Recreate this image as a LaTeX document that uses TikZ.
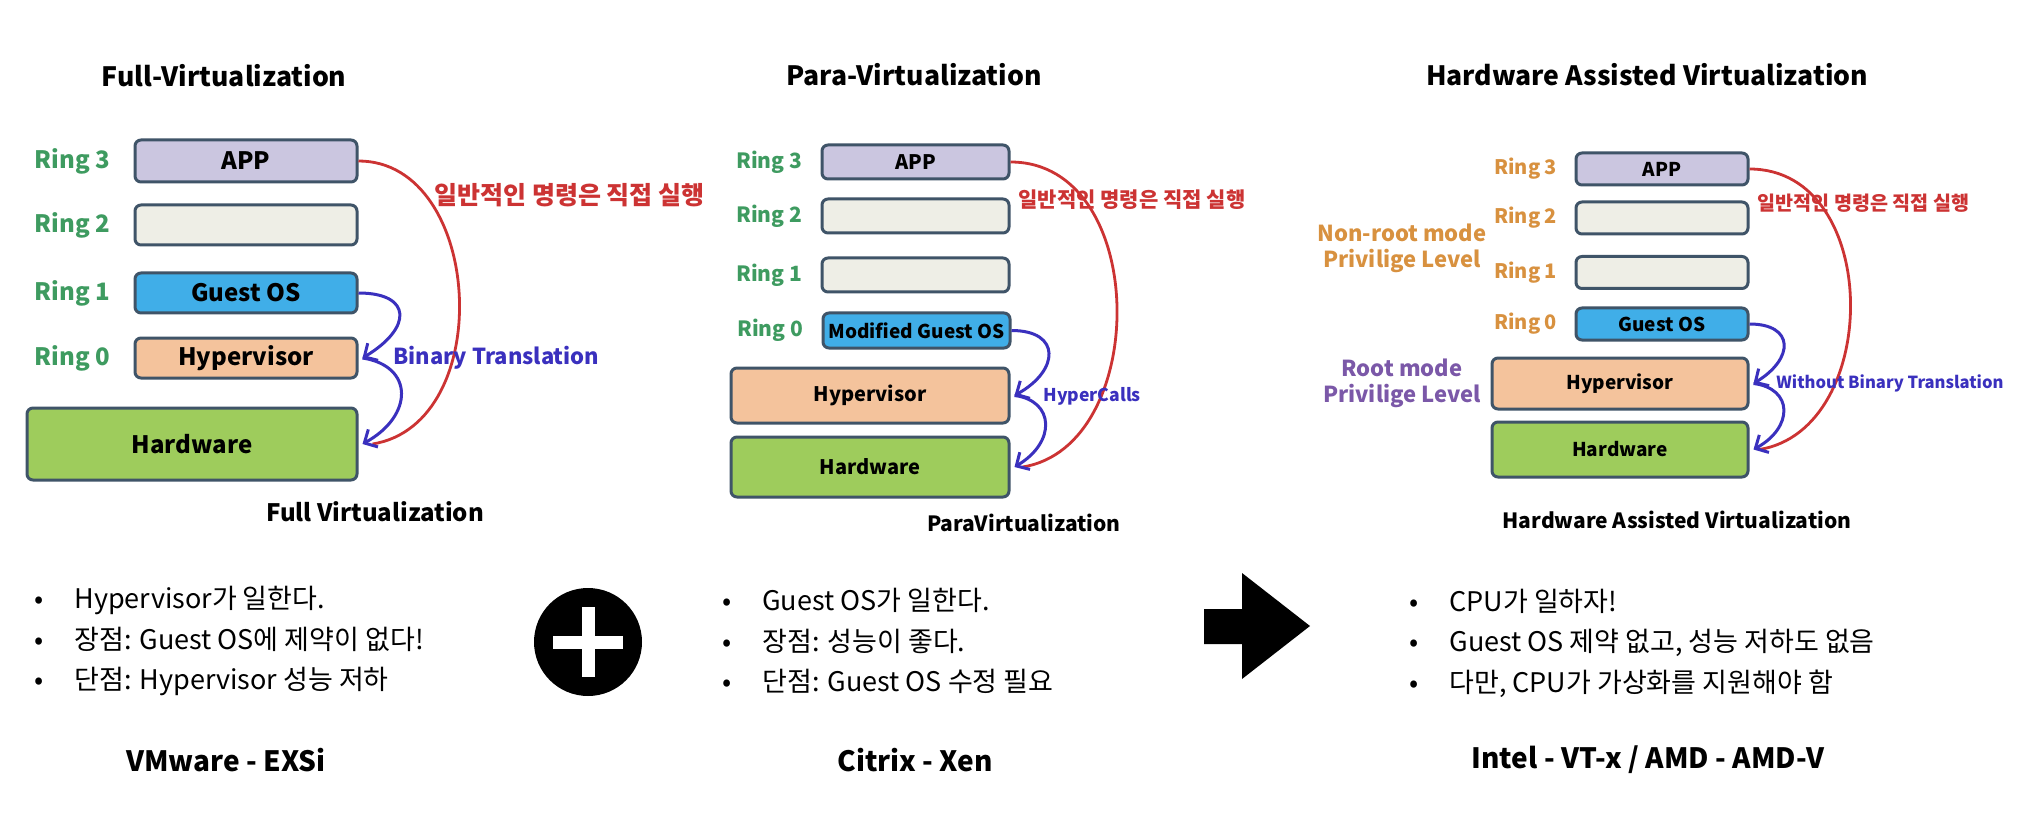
\documentclass[tikz,border=0pt]{standalone}
\usepackage{fontspec}
\setmainfont{Noto Sans CJK KR}
\usetikzlibrary{arrows.meta, positioning}
\definecolor{virtgreen}{HTML}{3E9B60}
\definecolor{virtorange}{HTML}{D8913F}
\definecolor{virtpurple}{HTML}{7B58A8}
\definecolor{virtred}{HTML}{CC3333}
\definecolor{virtblue}{HTML}{3A30BE}
\definecolor{virtedge}{HTML}{3F5468}
\definecolor{appfill}{HTML}{CBC6E0}
\definecolor{emptyfill}{HTML}{EEEEE6}
\definecolor{osfill}{HTML}{40AEE8}
\definecolor{hypfill}{HTML}{F4C39C}
\definecolor{hwfill}{HTML}{9ECC5C}
\newcommand{\fsz}[1]{\fontsize{#1}{#1}\selectfont}
\newcommand{\bul}[1]{\makebox[20pt][l]{\textbullet}#1}
\tikzset{
  layer/.style={rectangle, rounded corners=3pt, draw=virtedge, line width=1.5pt,
                align=center, inner sep=0pt},
  appbox/.style={layer, fill=appfill},
  emptybox/.style={layer, fill=emptyfill},
  osbox/.style={layer, fill=osfill},
  hypbox/.style={layer, fill=hypfill},
  hwbox/.style={layer, fill=hwfill},
  ring/.style={inner sep=0pt, text=virtgreen},
  ringo/.style={ring, text=virtorange},
  heading/.style={inner sep=0pt, font=\fsz{13.3}\bfseries},
  direct/.style={draw=virtred, line width=1.4pt},
  trap/.style={draw=virtblue, line width=1.5pt,
               -{Straight Barb[length=5pt, width=10pt, line width=1.5pt]}},
  redlbl/.style={anchor=west, inner sep=0pt, text=virtred},
  bluelbl/.style={anchor=west, inner sep=0pt, text=virtblue},
  bullets/.style={anchor=west, align=left, inner sep=0pt, font=\fontsize{13.5}{20.3}\selectfont},
  vendor/.style={inner sep=0pt, font=\fsz{14}\bfseries},
}

\begin{document}
\begin{tikzpicture}[x=0.5pt, y=-0.5pt]
  \useasboundingbox[fill=white] (0,0) rectangle (2024,834);

  % full virtualization
  \node[heading] (t1) at (224,76) {Full-Virtualization};
  \begin{scope}[font=\fsz{12}\bfseries]
    \node[appbox, minimum width=111pt, minimum height=21pt] (app1) at (246,161) {APP};
    \node[emptybox, minimum width=111pt, minimum height=20pt] (ept1) at (246,225) {};
    \node[osbox, minimum width=111pt, minimum height=20pt] (gos1) at (246,293) {Guest OS};
    \node[hypbox, minimum width=111pt, minimum height=20pt] (hyp1) at (246,358) {Hypervisor};
    \node[hwbox, minimum width=165pt, minimum height=36pt] (hw1) at (192,444) {Hardware};
    \node[ring, left=11.5pt of app1] (r13) {Ring 3};
    \node[ring, left=11.5pt of ept1] (r12) {Ring 2};
    \node[ring, left=11.5pt of gos1] (r11) {Ring 1};
    \node[ring, left=11.5pt of hyp1] (r10) {Ring 0};
  \end{scope}
  \draw[direct] (app1.east) .. controls +(125,0) and +(125,-20) .. ([xshift=7pt]hw1.east);
  \draw[trap] (gos1.east) .. controls +(54,0) and +(50,-30) .. ([xshift=2pt]hyp1.east);
  \draw[trap] ([xshift=2pt]hyp1.east) .. controls +(52,8) and +(51,-28) .. ([xshift=2pt]hw1.east);
  \node[redlbl, font=\fsz{12.5}\bfseries] (d1) at (434,195) {일반적인 명령은 직접 실행};
  \node[bluelbl, font=\fsz{11}\bfseries] (b1) at (393,358) {Binary Translation};
  \node[inner sep=0pt, font=\fsz{12}\bfseries] (c1) at (375,512) {Full Virtualization};

  % para virtualization
  \node[heading] (t2) at (914,75) {Para-Virtualization};
  \begin{scope}[font=\fsz{10}\bfseries]
    \node[appbox, minimum width=93.5pt, minimum height=17pt] (app2) at (915.5,162) {APP};
    \node[emptybox, minimum width=93.5pt, minimum height=17pt] (ept2) at (915.5,216) {};
    \node[emptybox, minimum width=93.5pt, minimum height=17pt] (eptb2) at (915.5,275) {};
    \node[osbox, minimum width=93.5pt, minimum height=17.5pt, font=\fsz{9.5}\bfseries] (mgos) at (916.5,330.5) {Modified Guest OS};
    \node[hypbox, minimum width=139pt, minimum height=27.5pt] (hyp2) at (870,395.5) {Hypervisor};
    \node[hwbox, minimum width=139pt, minimum height=30pt] (hw2) at (870,467) {Hardware};
    \node[ring, left=9pt of app2, font=\fsz{10.5}\bfseries] (r23) {Ring 3};
    \node[ring, left=9pt of ept2, font=\fsz{10.5}\bfseries] (r22) {Ring 2};
    \node[ring, left=9pt of eptb2, font=\fsz{10.5}\bfseries] (r21) {Ring 1};
    \node[ring, left=9pt of mgos, font=\fsz{10.5}\bfseries] (r20) {Ring 0};
  \end{scope}
  \draw[direct] (app2.east) .. controls +(140,0) and +(128,-20) .. ([xshift=6pt]hw2.east);
  \draw[trap] (mgos.east) .. controls +(50,0) and +(45,-25) .. ([xshift=2pt]hyp2.east);
  \draw[trap] ([xshift=2pt]hyp2.east) .. controls +(40,5) and +(42,-25) .. ([xshift=2pt]hw2.east);
  \node[redlbl, font=\fsz{10.5}\bfseries] (d2) at (1018,200) {일반적인 명령은 직접 실행};
  \node[bluelbl, font=\fsz{8.8}\bfseries] (b2) at (1043,396) {HyperCalls};
  \node[inner sep=0pt, font=\fsz{10.5}\bfseries] (c2) at (1024,523) {ParaVirtualization};

  % hardware assisted virtualization
  \node[heading] (t3) at (1647,75) {Hardware Assisted Virtualization};
  \begin{scope}[font=\fsz{9.5}\bfseries]
    \node[appbox, minimum width=86pt, minimum height=16pt] (app3) at (1662,169) {APP};
    \node[emptybox, minimum width=86pt, minimum height=16pt] (ept3) at (1662,218) {};
    \node[emptybox, minimum width=86pt, minimum height=16pt] (eptb3) at (1662,272.5) {};
    \node[osbox, minimum width=86pt, minimum height=16pt] (gos3) at (1662,324) {Guest OS};
    \node[hypbox, minimum width=128pt, minimum height=25.5pt] (hyp3) at (1620,383.5) {Hypervisor};
    \node[hwbox, minimum width=128pt, minimum height=27.5pt] (hw3) at (1620,449.5) {Hardware};
    \node[ringo, left=8.5pt of app3, font=\fsz{10}\bfseries] (r33) {Ring 3};
    \node[ringo, left=8.5pt of ept3, font=\fsz{10}\bfseries] (r32) {Ring 2};
    \node[ringo, left=8.5pt of eptb3, font=\fsz{10}\bfseries] (r31) {Ring 1};
    \node[ringo, left=8.5pt of gos3, font=\fsz{10}\bfseries] (r30) {Ring 0};
  \end{scope}
  \node[align=center, inner sep=0pt, text=virtorange, font=\fontsize{11}{13}\selectfont\bfseries] (nonroot) at (1402,248) {Non-root mode\\Privilige Level};
  \node[align=center, inner sep=0pt, text=virtpurple, font=\fontsize{11}{13}\selectfont\bfseries] (root) at (1402,383) {Root mode\\Privilige Level};
  \draw[direct] (app3.east) .. controls +(133,0) and +(123,-20) .. ([xshift=5pt]hw3.east);
  \draw[trap] (gos3.east) .. controls +(45,0) and +(41,-25) .. ([xshift=2pt]hyp3.east);
  \draw[trap] ([xshift=2pt]hyp3.east) .. controls +(40,5) and +(40,-22) .. ([xshift=2pt]hw3.east);
  \node[redlbl, font=\fsz{9.8}\bfseries] (d3) at (1757,203) {일반적인 명령은 직접 실행};
  \node[bluelbl, font=\fsz{8.3}\bfseries] (b3) at (1776,383) {Without Binary Translation};
  \node[inner sep=0pt, font=\fsz{10.5}\bfseries] (c3) at (1677,520) {Hardware Assisted Virtualization};

  % summaries
  \node[bullets] (s1) at (34,641) {\bul{Hypervisor가 일한다.}\\\bul{장점: Guest OS에 제약이 없다!}\\\bul{단점: Hypervisor 성능 저하}};
  \node[bullets] (s2) at (722,641) {\bul{Guest OS가 일한다.}\\\bul{장점: 성능이 좋다.}\\\bul{단점: Guest OS 수정 필요}};
  \node[bullets] (s3) at (1409,643) {\bul{CPU가 일하자!}\\\bul{Guest OS 제약 없고, 성능 저하도 없음}\\\bul{다만, CPU가 가상화를 지원해야 함}};

  \node[circle, fill=black, minimum size=54pt, inner sep=0pt] (plus) at (588,642) {};
  \fill[white] ([shift={(-17.5pt,-3.25pt)}]plus.center) rectangle ([shift={(17.5pt,3.25pt)}]plus.center);
  \fill[white] ([shift={(-3.25pt,-17.5pt)}]plus.center) rectangle ([shift={(3.25pt,17.5pt)}]plus.center);
  \fill[black] (1204,609) -- (1242,609) -- (1242,573) -- (1310,626) -- (1242,679) -- (1242,644) -- (1204,644) -- cycle;

  \node[vendor] (v1) at (226,760) {VMware - EXSi};
  \node[vendor] (v2) at (915,760) {Citrix - Xen};
  \node[vendor] (v3) at (1648,760) {Intel - VT-x / AMD - AMD-V};
\end{tikzpicture}
\end{document}
